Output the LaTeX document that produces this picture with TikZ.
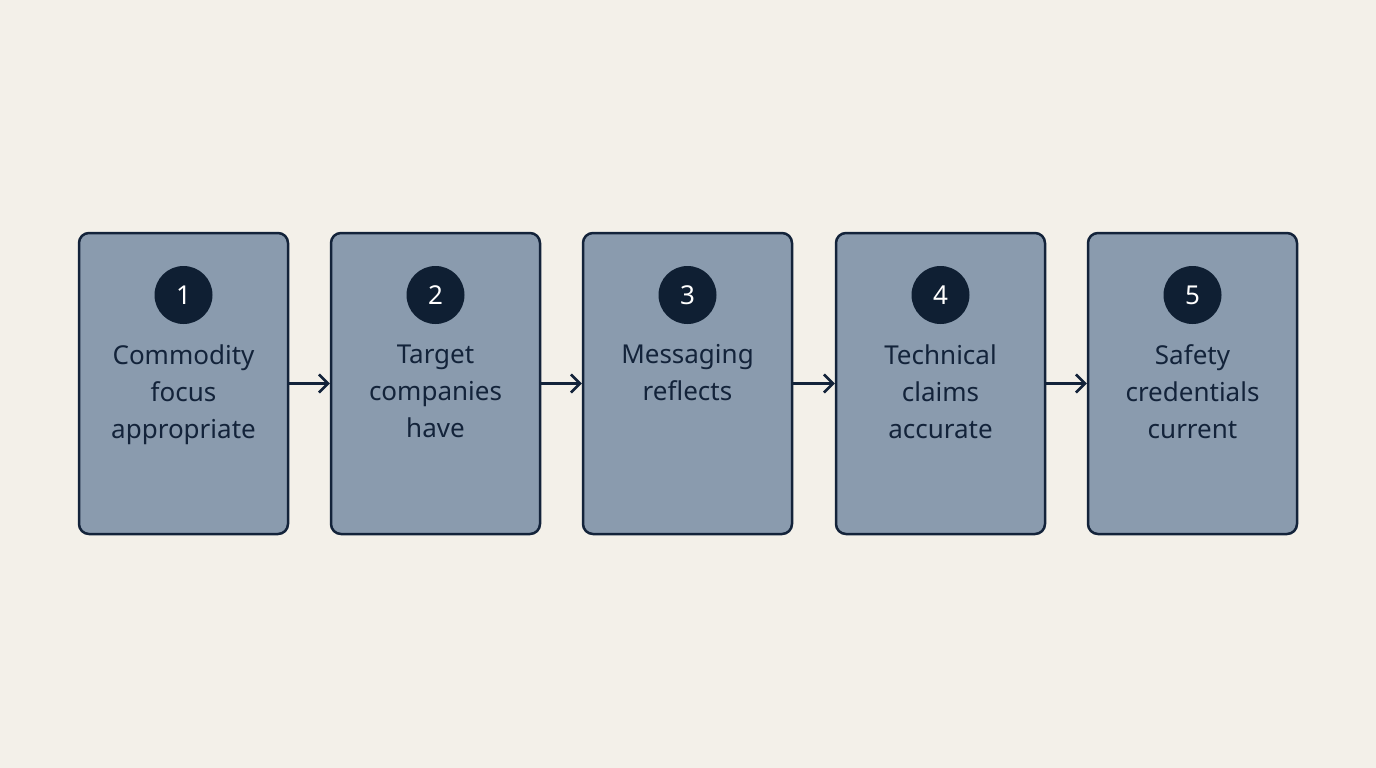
\documentclass[tikz,border=0pt]{standalone}
\usepackage{fontspec}
\setmainfont{Noto Sans}
\usetikzlibrary{arrows.meta}
\definecolor{bg}{HTML}{F3F0E9}
\definecolor{boxfill}{HTML}{8A9BAE}
\definecolor{dark}{HTML}{13233A}
\definecolor{circ}{HTML}{0F1F33}
\begin{document}
\begin{tikzpicture}[x=1pt,y=-1pt,
  stepbox/.style={draw=dark,line width=2.5pt,fill=boxfill,rounded corners=10pt,minimum width=209pt,minimum height=301pt,inner sep=0pt},
  num/.style={circle,fill=circ,minimum size=58pt,inner sep=0pt,text=white,font=\fontsize{26pt}{30pt}\selectfont},
  lbl/.style={align=center,text=dark,font=\fontsize{26pt}{37pt}\selectfont,anchor=north},
  arr/.style={draw=dark,line width=2.5pt,-{Straight Barb[length=9pt,width=18pt,line width=2.5pt]}}]
\fill[bg] (0,0) rectangle (1376,768);
\useasboundingbox (0,0) rectangle (1376,768);
\foreach \i/\x/\t in {1/183.5/{Commodity\\focus\\appropriate},2/435.5/{Target\\companies\\have},3/687.5/{Messaging\\reflects},4/940.5/{Technical\\claims\\accurate},5/1192.5/{Safety\\credentials\\current}}{
  \node[stepbox] (b\i) at (\x,383.5) {};
  \node[num] (n\i) at (\x,295) {\i};
  \node[lbl] (t\i) at (\x,341) {\t};
}
\foreach \a/\b in {1/2,2/3,3/4,4/5}{\draw[arr] (b\a.east) -- (b\b.west);}
\end{tikzpicture}
\end{document}
